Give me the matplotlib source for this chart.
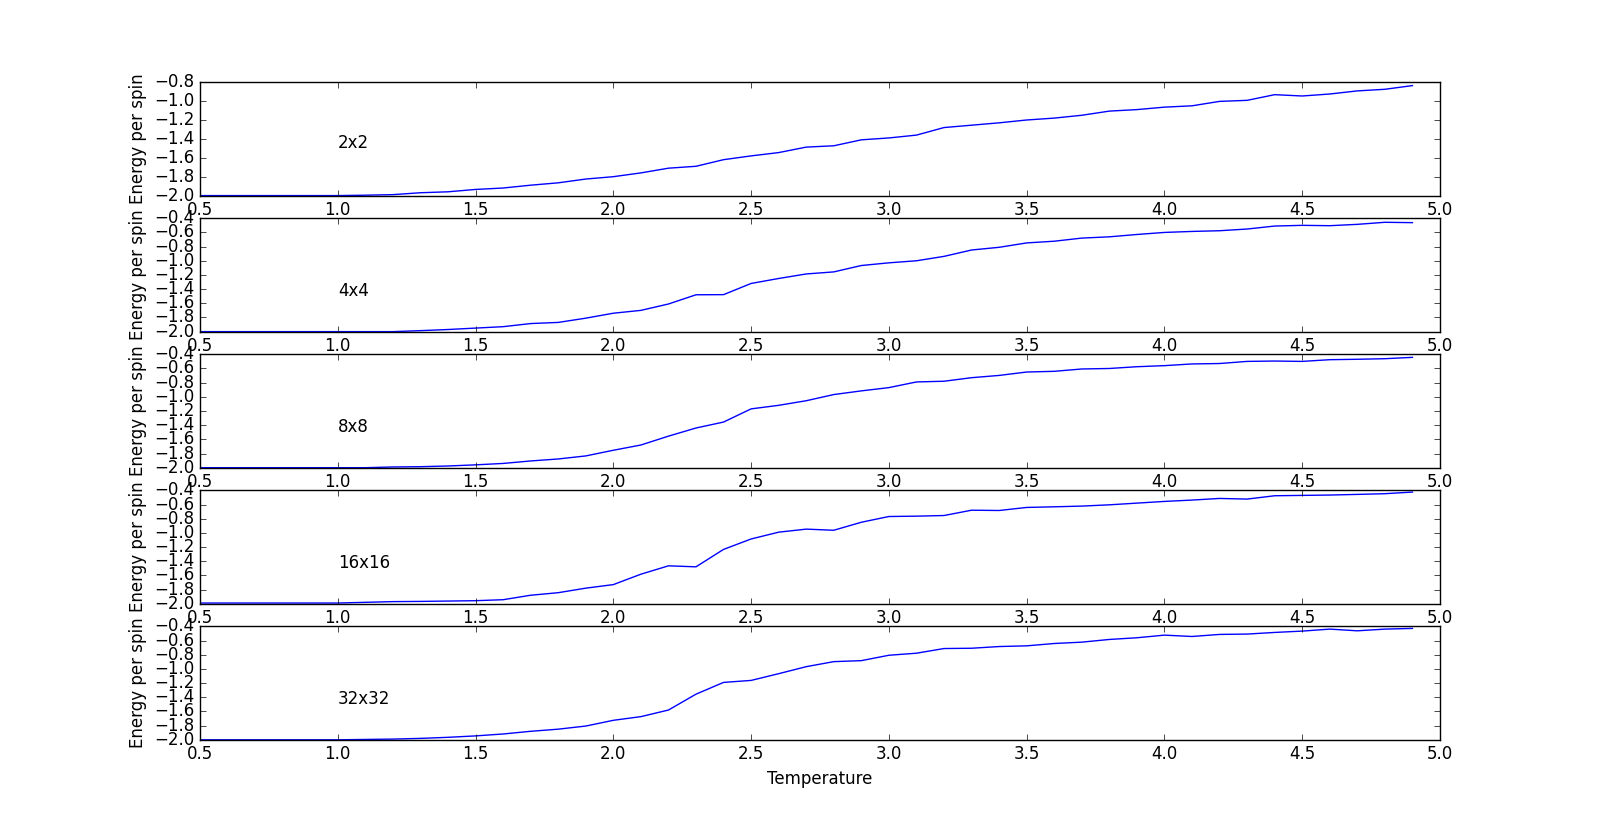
import matplotlib
matplotlib.use('Agg')
import matplotlib.pyplot as plt

plt.style.use('classic')

temps = [0.5, 0.6, 0.7, 0.8, 0.9, 1.0, 1.1, 1.2, 1.3, 1.4,
         1.5, 1.6, 1.7, 1.8, 1.9, 2.0, 2.1, 2.2, 2.3, 2.4,
         2.5, 2.6, 2.7, 2.8, 2.9, 3.0, 3.1, 3.2, 3.3, 3.4,
         3.5, 3.6, 3.7, 3.8, 3.9, 4.0, 4.1, 4.2, 4.3, 4.4,
         4.5, 4.6, 4.7, 4.8, 4.9]

e_2x2 = [-2.0, -2.0, -2.0, -2.0, -2.0, -2.0, -1.996, -1.99, -1.97, -1.96,
         -1.935, -1.92, -1.89, -1.865, -1.825, -1.80, -1.76, -1.71, -1.69, -1.62,
         -1.58, -1.545, -1.487, -1.473, -1.41, -1.39, -1.36, -1.28, -1.255, -1.23,
         -1.20, -1.18, -1.15, -1.106, -1.09, -1.064, -1.05, -1.003, -0.992, -0.932,
         -0.946, -0.925, -0.892, -0.875, -0.836]

e_4x4 = [-2.0, -2.0, -2.0, -2.0, -2.0, -2.0, -2.0, -2.0, -1.986, -1.97,
         -1.95, -1.93, -1.886, -1.87, -1.81, -1.74, -1.70, -1.61, -1.48, -1.478,
         -1.32, -1.25, -1.186, -1.157, -1.067, -1.029, -1.0, -0.938, -0.848, -0.81,
         -0.748, -0.724, -0.68, -0.662, -0.629, -0.60, -0.586, -0.576, -0.552, -0.51,
         -0.50, -0.505, -0.486, -0.457, -0.462]

e_8x8 = [-2.0, -2.0, -2.0, -2.0, -2.0, -2.0, -2.0, -1.99, -1.986, -1.976,
         -1.96, -1.94, -1.905, -1.877, -1.834, -1.754, -1.68, -1.555, -1.44, -1.356,
         -1.17, -1.12, -1.055, -0.968, -0.916, -0.87, -0.79, -0.78, -0.73, -0.698,
         -0.65, -0.64, -0.607, -0.60, -0.575, -0.56, -0.536, -0.53, -0.50, -0.495,
         -0.50, -0.476, -0.47, -0.462, -0.443]

e_16x16 = [-1.99, -1.99, -1.99, -1.99, -1.99, -1.99, -1.98, -1.97, -1.967, -1.962,
           -1.957, -1.943, -1.88, -1.844, -1.78, -1.73, -1.583, -1.465, -1.479, -1.233,
           -1.086, -0.99, -0.947, -0.963, -0.85, -0.769, -0.764, -0.755, -0.68, -0.684,
           -0.641, -0.632, -0.622, -0.604, -0.58, -0.556, -0.537, -0.514, -0.523, -0.476,
           -0.471, -0.466, -0.457, -0.447, -0.424]

e_32x32 = [-2.0, -2.0, -2.0, -2.0, -2.0, -2.0, -1.995, -1.99, -1.98, -1.965,
           -1.945, -1.918, -1.88, -1.85, -1.806, -1.725, -1.673, -1.58, -1.356, -1.19,
           -1.162, -1.067, -0.968, -0.897, -0.883, -0.807, -0.778, -0.712, -0.708, -0.684,
           -0.674, -0.641, -0.622, -0.584, -0.56, -0.523, -0.542, -0.513, -0.508, -0.485,
           -0.466, -0.438, -0.462, -0.438, -0.428]

sizes = ['2x2', '4x4', '8x8', '16x16', '32x32']
series = [e_2x2, e_4x4, e_8x8, e_16x16, e_32x32]
ylims = [(-2.0, -0.8), (-2.0, -0.4), (-2.0, -0.4), (-2.0, -0.4), (-2.0, -0.4)]

fig = plt.figure(figsize=(16, 8.22), dpi=100)
fig.patch.set_facecolor('white')

for i in range(5):
    ax = fig.add_subplot(5, 1, i + 1)
    ax.plot(temps, series[i], 'b-')
    ax.set_xlim(0.5, 5.0)
    ax.set_ylim(*ylims[i])
    ax.text(1.0, -1.5, sizes[i])
    ax.set_ylabel('Energy per spin')
    if i == 4:
        ax.set_xlabel('Temperature')

fig.savefig('out.png', dpi=100, facecolor='white')
